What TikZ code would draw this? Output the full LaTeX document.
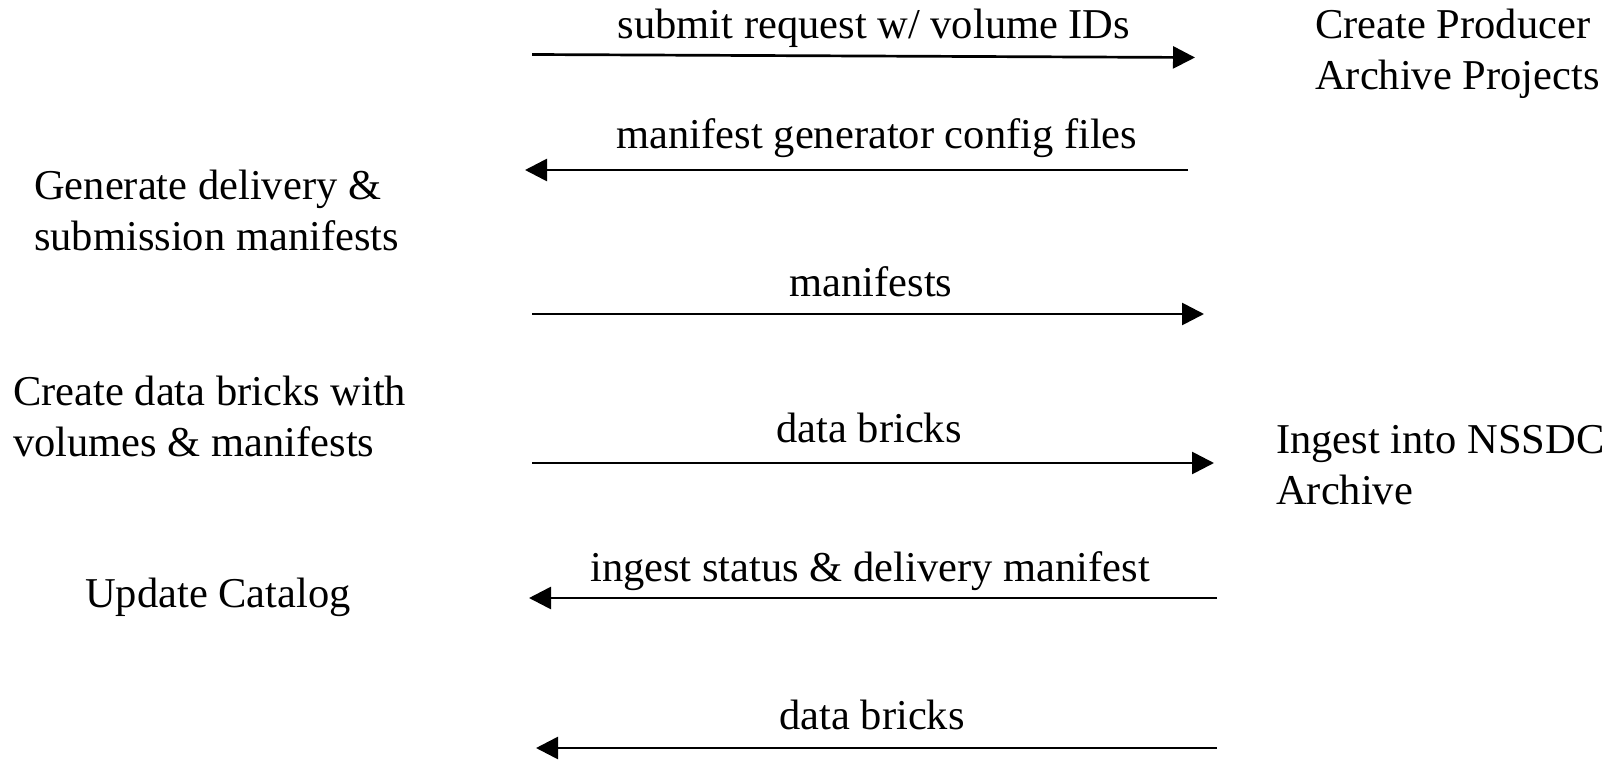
\documentclass[tikz,border=0pt]{standalone}
\usepackage{fontspec}
\setmainfont{Liberation Serif}
\usetikzlibrary{arrows.meta}
\begin{document}
\begin{tikzpicture}[x=1pt,y=-1pt,
  msg/.style={line width=2.7pt, -{Triangle[length=22pt,width=22pt]}},
  lbl/.style={font=\fontsize{42.5}{50.5}\selectfont, inner sep=0pt, anchor=base},
  act/.style={font=\fontsize{42.5}{50.5}\selectfont, inner sep=0pt, align=left, anchor=base west}]
\useasboundingbox (0,0) rectangle (1613,760);

% activities on both sides (anchored at the baseline of their last line)
\node[act] (producer) at (1315,89) {Create Producer\\Archive Projects};
\node[act] (generate) at (34,250) {Generate delivery \&\\submission manifests};
\node[act] (bricks) at (13,456) {Create data bricks with\\volumes \& manifests};
\node[act] (ingest) at (1276,504) {Ingest into NSSDC\\Archive};
\node[act] (catalog) at (85,607) {Update Catalog};

% message end points
\coordinate (s1) at (532,54.5);  \coordinate (e1) at (1195,57.5);
\coordinate (s2) at (1188,170);  \coordinate (e2) at (525,170);
\coordinate (s3) at (532,314);   \coordinate (e3) at (1204,314);
\coordinate (s4) at (532,463);   \coordinate (e4) at (1214,463);
\coordinate (s5) at (1217,598);  \coordinate (e5) at (529,598);
\coordinate (s6) at (1217,748);  \coordinate (e6) at (536,748);

% messages
\draw[msg] (s1) -- (e1);
\draw[msg] (s2) -- (e2);
\draw[msg] (s3) -- (e3);
\draw[msg] (s4) -- (e4);
\draw[msg] (s5) -- (e5);
\draw[msg] (s6) -- (e6);

% message labels
\node[lbl] (m1) at (874,38) {submit request w/ volume IDs};
\node[lbl] (m2) at (877,148) {manifest generator config files};
\node[lbl] (m3) at (871,296) {manifests};
\node[lbl] (m4) at (869,442) {data bricks};
\node[lbl] (m5) at (870,581) {ingest status \& delivery manifest};
\node[lbl] (m6) at (872,729) {data bricks};
\end{tikzpicture}
\end{document}
